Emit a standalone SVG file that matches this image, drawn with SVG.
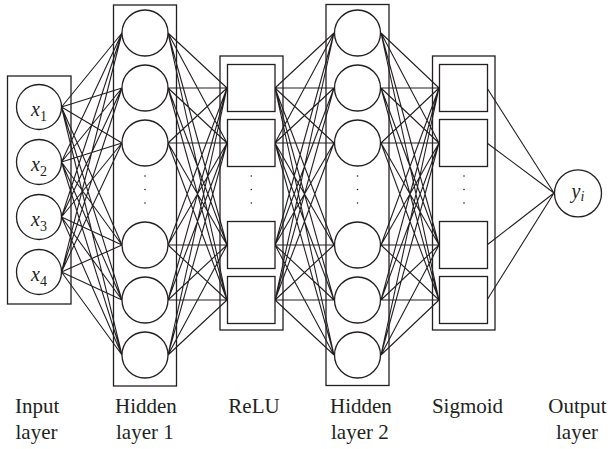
<svg xmlns="http://www.w3.org/2000/svg" width="611" height="449" viewBox="0 0 611 449">
<style>
.box{fill:none;stroke:#231f20;stroke-width:1.3}
.node{fill:#fff;stroke:#231f20;stroke-width:1.3}
.edge{fill:none;stroke:#231f20;stroke-width:1.1}
.dot{fill:#231f20}
.lbl{font-family:"Liberation Serif","Times New Roman",serif;font-size:21px;fill:#231f20}
.var{font-family:"Liberation Serif","Times New Roman",serif;font-size:20px;font-style:italic;fill:#231f20}
.sub{font-size:14px}
</style>
<rect width="611" height="449" fill="#fff"/>
<g id="connectors">
<path class="edge" d="M61.5 107L122 33M61.5 107L122 88M61.5 107L122 143M61.5 107L122 245M61.5 107L122 300M61.5 107L122 355M61.5 162L122 33M61.5 162L122 88M61.5 162L122 143M61.5 162L122 245M61.5 162L122 300M61.5 162L122 355M61.5 217L122 33M61.5 217L122 88M61.5 217L122 143M61.5 217L122 245M61.5 217L122 300M61.5 217L122 355M61.5 272L122 33M61.5 272L122 88M61.5 272L122 143M61.5 272L122 245M61.5 272L122 300M61.5 272L122 355"/>
<path class="edge" d="M168 33L227 88M168 33L227 143M168 33L227 245M168 33L227 300M168 88L227 88M168 88L227 143M168 88L227 245M168 88L227 300M168 143L227 88M168 143L227 143M168 143L227 245M168 143L227 300M168 245L227 88M168 245L227 143M168 245L227 245M168 245L227 300M168 300L227 88M168 300L227 143M168 300L227 245M168 300L227 300M168 355L227 88M168 355L227 143M168 355L227 245M168 355L227 300"/>
<path class="edge" d="M275 88L334 33M275 88L334 88M275 88L334 143M275 88L334 245M275 88L334 300M275 88L334 355M275 143L334 33M275 143L334 88M275 143L334 143M275 143L334 245M275 143L334 300M275 143L334 355M275 245L334 33M275 245L334 88M275 245L334 143M275 245L334 245M275 245L334 300M275 245L334 355M275 300L334 33M275 300L334 88M275 300L334 143M275 300L334 245M275 300L334 300M275 300L334 355"/>
<path class="edge" d="M381 33L439 88M381 33L439 143M381 33L439 245M381 33L439 300M381 88L439 88M381 88L439 143M381 88L439 245M381 88L439 300M381 143L439 88M381 143L439 143M381 143L439 245M381 143L439 300M381 245L439 88M381 245L439 143M381 245L439 245M381 245L439 300M381 300L439 88M381 300L439 143M381 300L439 245M381 300L439 300M381 355L439 88M381 355L439 143M381 355L439 245M381 355L439 300"/>
<path class="edge" d="M487 88L554 193M487 143L554 193M487 245L554 193M487 300L554 193"/>
</g>
<g id="input-layer">
<rect class="box" x="7.5" y="76" width="63.5" height="228"/>
<circle class="node" cx="39" cy="107" r="22.5"/>
<circle class="node" cx="39" cy="162" r="22.5"/>
<circle class="node" cx="39" cy="217" r="22.5"/>
<circle class="node" cx="39" cy="272" r="22.5"/>
<text class="var" x="39" y="115.5" text-anchor="middle">x<tspan class="sub" font-style="normal" dy="5">1</tspan></text>
<text class="var" x="39" y="170.5" text-anchor="middle">x<tspan class="sub" font-style="normal" dy="5">2</tspan></text>
<text class="var" x="39" y="225.5" text-anchor="middle">x<tspan class="sub" font-style="normal" dy="5">3</tspan></text>
<text class="var" x="39" y="280.5" text-anchor="middle">x<tspan class="sub" font-style="normal" dy="5">4</tspan></text>
</g>
<g id="hidden-layer-1">
<rect class="box" x="113.5" y="5" width="63" height="381"/>
<circle class="node" cx="145" cy="33" r="23"/>
<circle class="node" cx="145" cy="88" r="23"/>
<circle class="node" cx="145" cy="143" r="23"/>
<circle class="node" cx="145" cy="245" r="23"/>
<circle class="node" cx="145" cy="300" r="23"/>
<circle class="node" cx="145" cy="355" r="23"/>
<circle class="dot" cx="145" cy="176" r="0.8"/>
<circle class="dot" cx="145" cy="189.5" r="0.8"/>
<circle class="dot" cx="145" cy="203" r="0.8"/>
</g>
<g id="relu">
<rect class="box" x="220" y="56" width="63" height="274"/>
<rect class="node" x="227.5" y="64.5" width="47.5" height="47"/>
<rect class="node" x="227.5" y="119.5" width="47.5" height="47"/>
<rect class="node" x="227.5" y="221.5" width="47.5" height="47"/>
<rect class="node" x="227.5" y="276.5" width="47.5" height="47"/>
<circle class="dot" cx="251.3" cy="176" r="0.8"/>
<circle class="dot" cx="251.3" cy="189.5" r="0.8"/>
<circle class="dot" cx="251.3" cy="203" r="0.8"/>
</g>
<g id="hidden-layer-2">
<rect class="box" x="326" y="4.5" width="63" height="381"/>
<circle class="node" cx="357.5" cy="33" r="23"/>
<circle class="node" cx="357.5" cy="88" r="23"/>
<circle class="node" cx="357.5" cy="143" r="23"/>
<circle class="node" cx="357.5" cy="245" r="23"/>
<circle class="node" cx="357.5" cy="300" r="23"/>
<circle class="node" cx="357.5" cy="355" r="23"/>
<circle class="dot" cx="357.5" cy="176" r="0.8"/>
<circle class="dot" cx="357.5" cy="189.5" r="0.8"/>
<circle class="dot" cx="357.5" cy="203" r="0.8"/>
</g>
<g id="sigmoid">
<rect class="box" x="432.5" y="56" width="62.5" height="274"/>
<rect class="node" x="439.5" y="64.5" width="48" height="47"/>
<rect class="node" x="439.5" y="119.5" width="48" height="47"/>
<rect class="node" x="439.5" y="221.5" width="48" height="47"/>
<rect class="node" x="439.5" y="276.5" width="48" height="47"/>
<circle class="dot" cx="464" cy="176" r="0.8"/>
<circle class="dot" cx="464" cy="189.5" r="0.8"/>
<circle class="dot" cx="464" cy="203" r="0.8"/>
</g>
<g id="output">
<circle class="node" cx="578" cy="193.3" r="23.5"/>
<text class="var" x="578" y="198" text-anchor="middle">y<tspan class="sub" dy="3">i</tspan></text>
</g>
<g id="labels">
<text class="lbl" x="15" y="413">Input</text>
<text class="lbl" x="15.5" y="439">layer</text>
<text class="lbl" x="115" y="413">Hidden</text>
<text class="lbl" x="116" y="439">layer 1</text>
<text class="lbl" x="254" y="413" text-anchor="middle">ReLU</text>
<text class="lbl" x="330" y="413">Hidden</text>
<text class="lbl" x="331" y="439">layer 2</text>
<text class="lbl" x="467.5" y="413" text-anchor="middle">Sigmoid</text>
<text class="lbl" x="577.5" y="413" text-anchor="middle">Output</text>
<text class="lbl" x="577" y="439" text-anchor="middle">layer</text>
</g>
</svg>
